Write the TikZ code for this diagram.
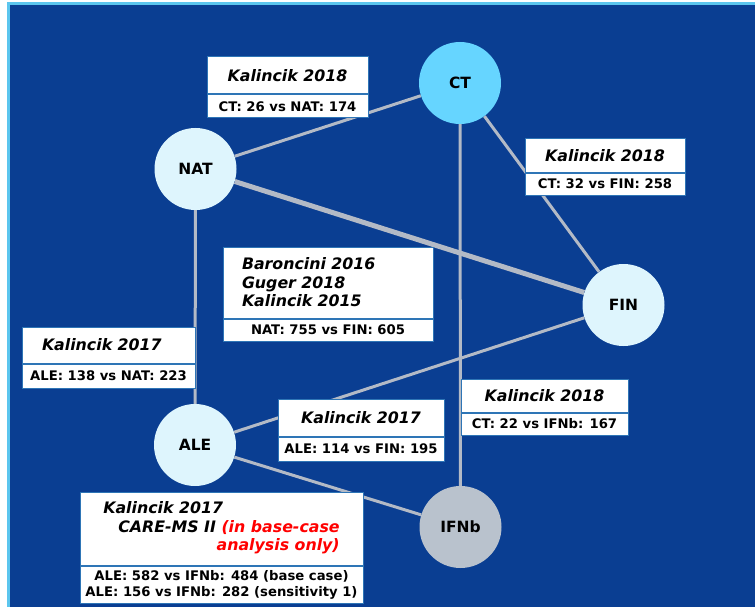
\documentclass[tikz,border=0pt]{standalone}
\usepackage{fontspec}
\setmainfont{DejaVu Sans}
\usepackage{tikz}
\usetikzlibrary{positioning}
\definecolor{bgblue}{HTML}{0A3E92}
\definecolor{framecyan}{HTML}{5CC6EE}
\definecolor{ctfill}{HTML}{66D5FF}
\definecolor{armfill}{HTML}{DEF5FD}
\definecolor{ifnfill}{HTML}{B9C2CD}
\definecolor{linkgray}{HTML}{B3BAC6}
\definecolor{boxline}{HTML}{2E75B6}

\begin{document}
\begin{tikzpicture}[x=1pt,y=-1pt,
  arm/.style={circle,minimum size=82pt,inner sep=0pt,fill=armfill,
    font=\bfseries\fontsize{15.5}{18}\selectfont},
  ref/.style={draw=boxline,fill=white,line width=1pt,align=center,
    font=\bfseries\itshape\fontsize{15.8}{18.5}\selectfont},
  cnt/.style={draw=boxline,fill=white,line width=1pt,align=center,inner ysep=2pt,
    font=\bfseries\fontsize{13.2}{16}\selectfont},
  link/.style={draw=linkgray,line width=3pt}]
\useasboundingbox (0,0) rectangle (755,607);
\fill[bgblue] (7,2) rectangle (755,607);
\draw[framecyan,line width=3pt] (8.5,607) |- (755,3.5);

% treatments
\node[arm,fill=ctfill] (ct) at (460,83) {CT};
\node[arm] (nat) at (195.5,169) {NAT};
\node[arm] (fin) at (623.5,305) {FIN};
\node[arm] (ale) at (195,445) {ALE};
\node[arm,fill=ifnfill] (ifn) at (460.5,527) {IFNb};

% comparisons
\draw[link] (ct) -- (nat);
\draw[link] (ct) -- (fin);
\draw[link] (ct) -- (ifn);
\draw[link,line width=5pt] (nat) -- (fin);
\draw[link] (nat) -- (ale);
\draw[link] (ale) -- (fin);
\draw[link] (ale) -- (ifn);

% studies
\node[ref,minimum width=161pt,minimum height=37pt] (s1) at (287.5,75.5) {Kalincik 2018};
\node[cnt,minimum width=161pt,minimum height=23pt,below=0pt of s1] (n1) {CT: 26 vs NAT: 174};
\node[ref,minimum width=160pt,minimum height=33pt] (s2) at (605,155.5) {Kalincik 2018};
\node[cnt,minimum width=160pt,minimum height=22pt,below=0pt of s2] (n2) {CT: 32 vs FIN: 258};
\node[ref,text width=172pt,inner xsep=19pt,align=left,minimum height=71pt] (s3) at (328,282.5)
  {Baroncini 2016\\Guger 2018\\Kalincik 2015};
\node[cnt,minimum width=210pt,minimum height=22pt,below=0pt of s3] (n3) {NAT: 755 vs FIN: 605};
\node[ref,text width=133pt,inner xsep=20pt,align=left,minimum height=36pt] (s4) at (108.5,345) {Kalincik 2017};
\node[cnt,minimum width=173pt,minimum height=24pt,below=0pt of s4] (n4) {ALE: 138 vs NAT: 223};
\node[ref,minimum width=166pt,minimum height=37pt] (s5) at (361,417.5) {Kalincik 2017};
\node[cnt,minimum width=166pt,minimum height=24pt,below=0pt of s5] (n5) {ALE: 114 vs FIN: 195};
\node[ref,minimum width=167pt,minimum height=33pt] (s6) at (544.5,395.5) {Kalincik 2018};
\node[cnt,minimum width=167pt,minimum height=22pt,below=0pt of s6] (n6) {CT: 22 vs IFNb: 167};
\node[ref,minimum width=283pt,minimum height=73pt] (s7) at (221.5,528.5)
  {\begin{tabular}{@{}l@{}}Kalincik 2017\\
   \hspace{15pt}CARE-MS II \textcolor{red}{(in base-case}\\
   \hfill\textcolor{red}{analysis only)}\end{tabular}};
\node[cnt,minimum width=283pt,minimum height=37pt,below=0pt of s7] (n7)
  {ALE: 582 vs IFNb: 484 (base case)\\ALE: 156 vs IFNb: 282 (sensitivity 1)};
\end{tikzpicture}
\end{document}
